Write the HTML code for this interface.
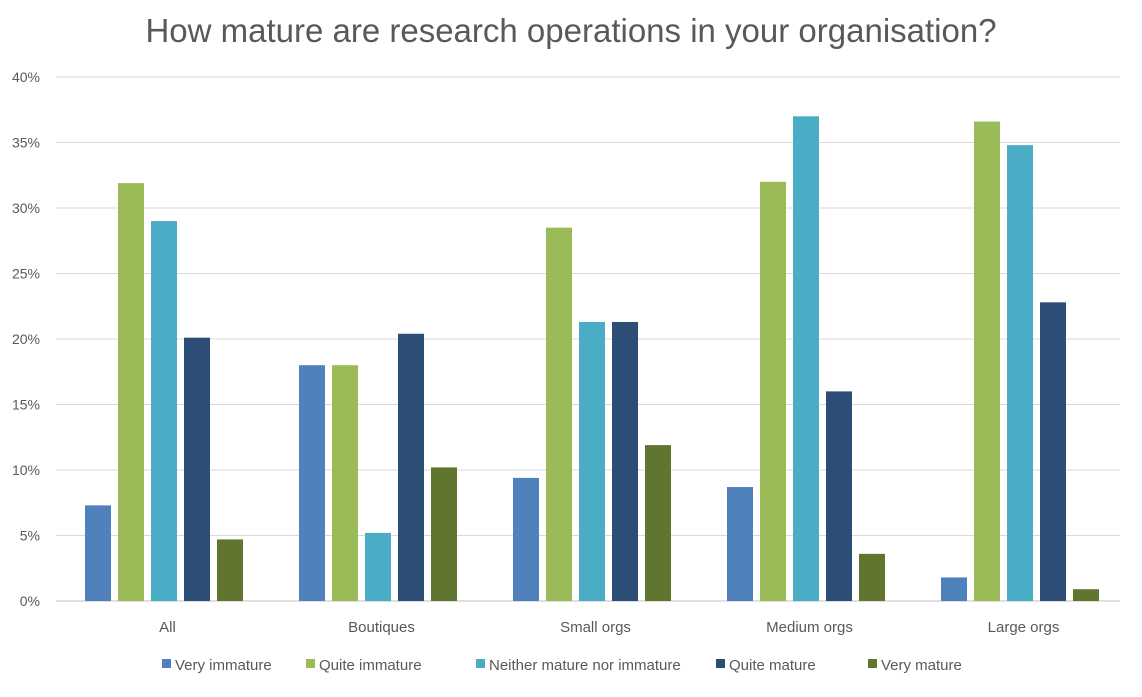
<!DOCTYPE html>
<html><head><meta charset="utf-8"><style>
body{margin:0;background:#fff;font-family:"Liberation Sans",sans-serif;}
</style></head><body>
<svg id="chart" width="1142" height="692" xmlns="http://www.w3.org/2000/svg">
<text x="571" y="42" text-anchor="middle" font-size="33" fill="#595959" font-family="Liberation Sans, sans-serif">How mature are research operations in your organisation?</text>
<g id="grid"></g><g id="bars"></g><g id="legend"></g>
</svg>
<script>
const categories=["All","Boutiques","Small orgs","Medium orgs","Large orgs"];
const seriesNames=["Very immature","Quite immature","Neither mature nor immature","Quite mature","Very mature"];
const veryImmature=[7.3,18,9.4,8.7,1.8];
const quiteImmature=[31.9,18,28.5,32,36.6];
const neither=[29,5.2,21.3,37,34.8];
const quiteMature=[20.1,20.4,21.3,16,22.8];
const veryMature=[4.7,10.2,11.9,3.6,0.9];
const ticks=[0,5,10,15,20,25,30,35,40];
const series=[veryImmature,quiteImmature,neither,quiteMature,veryMature];
const colors=["#4f81bd","#9bbb59","#4bacc6","#2c4d75","#5f7530"];
const NS="http://www.w3.org/2000/svg";
const gx0=60.5,gx1=1130.5,y0=601,yTop=77,maxV=40;
const y=v=>y0-(v/maxV)*(y0-yTop);
const gw=(gx1-gx0)/categories.length;
const gx=i=>gx0+gw*(i+0.5);
function mk(t,a,p){const e=document.createElementNS(NS,t);for(const k in a)e.setAttribute(k,a[k]);p.appendChild(e);return e;}
const grid=document.getElementById('grid'),bars=document.getElementById('bars'),leg=document.getElementById('legend');
ticks.forEach(t=>{
 const l=mk('line',{x1:56,x2:1120,y1:y(t),y2:y(t),stroke:t===0?'#bfbfbf':'#d9d9d9','stroke-width':1},grid);
 
 
 const tx=mk('text',{x:40,y:y(t)+5,'text-anchor':'end','font-size':14,fill:'#595959'},grid);
 tx.textContent=t+'%';
 
 
});
categories.forEach((c,i)=>{
 const tx=mk('text',{x:gx(i),y:632,'text-anchor':'middle','font-size':15,fill:'#595959'},grid);
 tx.textContent=c;
 
 
 series.forEach((s,j)=>{
  const bx=gx(i)-82.5+j*33;
  const r=mk('rect',{x:bx,y:y(s[i]),width:26,height:y0-y(s[i]),fill:colors[j]},bars);
  
  
 });
});
let lx=[162,306,476,716,868];
seriesNames.forEach((n,j)=>{
 const r=mk('rect',{x:lx[j],y:659,width:9,height:9,fill:colors[j]},leg);
 
 
 const t=mk('text',{x:lx[j]+13,y:670,'font-size':15,fill:'#595959'},leg);
 t.textContent=n;
 
 
});
</script>
</body></html>
